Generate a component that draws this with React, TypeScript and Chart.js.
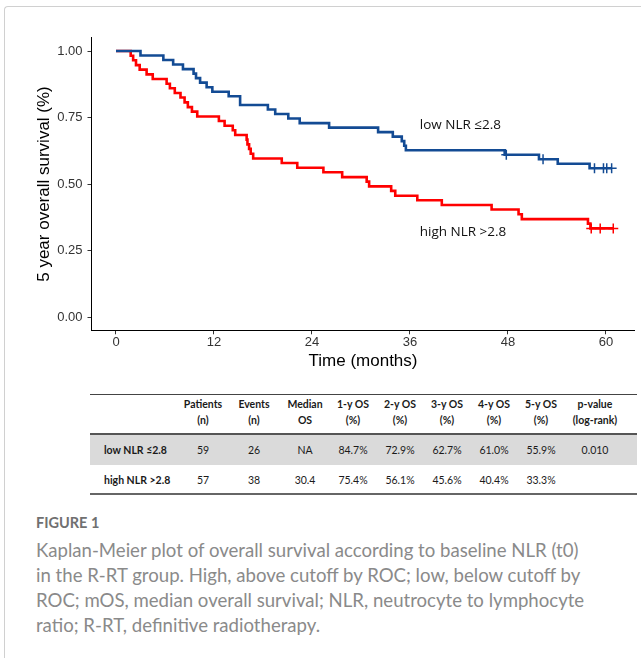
import React, { useEffect, useRef } from "react";
import { Chart, registerables } from "chart.js";

Chart.register(...registerables);

// ---------- data ----------
const LOW_T = [0, 3.0, 5.8, 7.0, 8.2, 9.5, 9.8, 10.3, 11.1, 11.8, 13.8, 15.2, 18.6, 19.5, 21.1, 22.5, 26.1, 32.1, 33.9, 35.0, 35.3, 35.5, 47.6, 51.8, 54.1, 58.0, 60.7];
const LOW_S = [1, 0.983, 0.966, 0.949, 0.932, 0.915, 0.898, 0.881, 0.864, 0.847, 0.830, 0.797, 0.780, 0.763, 0.746, 0.729, 0.712, 0.695, 0.678, 0.661, 0.644, 0.627, 0.610, 0.593, 0.576, 0.559, 0.559];
const LOW_CENS_T = [47.8, 52.3, 58.6, 59.7, 60.1, 60.7];
const LOW_CENS_S = [0.610, 0.593, 0.559, 0.559, 0.559, 0.559];

const HIGH_T = [0, 1.8, 2.1, 2.45, 2.9, 3.75, 4.5, 6.2, 6.6, 7.2, 7.9, 8.4, 8.8, 9.3, 9.95, 12.6, 13.3, 14.3, 14.6, 16.0, 16.1, 16.3, 16.5, 16.8, 20.3, 22.2, 25.4, 27.7, 30.7, 31.0, 33.7, 34.2, 36.9, 39.9, 46.0, 49.3, 49.7, 57.8, 58.1, 60.9];
const HIGH_S = [1, 0.982, 0.965, 0.947, 0.930, 0.912, 0.895, 0.877, 0.860, 0.842, 0.825, 0.807, 0.789, 0.772, 0.754, 0.737, 0.719, 0.702, 0.684, 0.667, 0.649, 0.632, 0.614, 0.596, 0.579, 0.561, 0.544, 0.526, 0.509, 0.491, 0.474, 0.456, 0.439, 0.421, 0.404, 0.386, 0.368, 0.351, 0.333, 0.333];
const HIGH_CENS_T = [58.2, 59.3, 60.9];
const HIGH_CENS_S = [0.333, 0.333, 0.333];

const X_TICKS = [0, 12, 24, 36, 48, 60];
const Y_TICKS = [0, 0.25, 0.5, 0.75, 1];

const CURVE_LABELS = ["low NLR \u22642.8", "high NLR >2.8"];
const LABEL_T = [37.2, 37.2];
const LABEL_S = [0.722, 0.32];

const TABLE_HEAD = [
  ["Patients", "(n)"],
  ["Events", "(n)"],
  ["Median", "OS"],
  ["1-y OS", "(%)"],
  ["2-y OS", "(%)"],
  ["3-y OS", "(%)"],
  ["4-y OS", "(%)"],
  ["5-y OS", "(%)"],
  ["p-value", "(log-rank)"],
];
const ROW_LABELS = ["low NLR \u22642.8", "high NLR >2.8"];
const ROW_LOW = ["59", "26", "NA", "84.7%", "72.9%", "62.7%", "61.0%", "55.9%", "0.010"];
const ROW_HIGH = ["57", "38", "30.4", "75.4%", "56.1%", "45.6%", "40.4%", "33.3%", ""];

const CAPTION_TITLE = "FIGURE 1";
const CAPTION_LINES = [
  "Kaplan-Meier plot of overall survival according to baseline NLR (t0)",
  "in the R-RT group. High, above cutoff by ROC; low, below cutoff by",
  "ROC; mOS, median overall survival; NLR, neutrocyte to lymphocyte",
  "ratio; R-RT, definitive radiotherapy.",
];

// ---------- styles / layout ----------
const BLUE = "#134b94";
const RED = "#ff0000";
const AXIS_FONT = '"Liberation Sans", Arial, sans-serif';
const COL_X = [203, 254, 305, 353, 400, 447, 494, 541, 595];

function KMChart() {
  const ref = useRef<HTMLCanvasElement | null>(null);
  useEffect(() => {
    if (!ref.current) return;
    const labelPlugin = {
      id: "curveLabels",
      afterDatasetsDraw(chart: any) {
        const { ctx, scales } = chart;
        ctx.save();
        ctx.font = '13.5px "Open Sans", sans-serif';
        ctx.fillStyle = "#111";
        ctx.textBaseline = "middle";
        ctx.textAlign = "left";
        CURVE_LABELS.forEach((t, i) => {
          ctx.fillText(t, scales.x.getPixelForValue(LABEL_T[i]), scales.y.getPixelForValue(LABEL_S[i]));
        });
        ctx.restore();
      },
    };
    const pts = (ts: number[], ss: number[]) => ts.map((t, i) => ({ x: t, y: ss[i] }));
    const chart = new Chart(ref.current, {
      type: "line",
      data: {
        datasets: [
          {
            label: "low",
            data: pts(LOW_T, LOW_S),
            borderColor: BLUE,
            borderWidth: 2.6,
            stepped: "before",
            pointRadius: 0,
            fill: false,
          },
          {
            label: "high",
            data: pts(HIGH_T, HIGH_S),
            borderColor: RED,
            borderWidth: 2.6,
            stepped: "before",
            pointRadius: 0,
            fill: false,
          },
          {
            type: "scatter",
            label: "lowc",
            data: pts(LOW_CENS_T, LOW_CENS_S),
            pointStyle: "cross",
            pointRadius: 5,
            borderColor: BLUE,
            backgroundColor: BLUE,
            borderWidth: 1.5,
            showLine: false,
          },
          {
            type: "scatter",
            label: "highc",
            data: pts(HIGH_CENS_T, HIGH_CENS_S),
            pointStyle: "cross",
            pointRadius: 5,
            borderColor: RED,
            backgroundColor: RED,
            borderWidth: 1.5,
            showLine: false,
          },
        ] as any,
      },
      options: {
        responsive: false,
        animation: false,
        devicePixelRatio: 1,
        layout: { padding: { top: 37.7, right: 6.3, left: 0, bottom: 0 } },
        plugins: { legend: { display: false }, tooltip: { enabled: false } },
        scales: {
          x: {
            type: "linear",
            min: -3,
            max: 63.5,
            afterBuildTicks: (s: any) => {
              s.ticks = X_TICKS.map((v) => ({ value: v }));
            },
            afterFit: (s: any) => {
              s.height = 54.7;
            },
            grid: { drawOnChartArea: false, drawTicks: true, tickLength: 4, color: "#333" },
            border: { display: true, color: "#000", width: 1 },
            ticks: {
              color: "#333",
              font: { family: AXIS_FONT, size: 13 },
              padding: 0,
              maxRotation: 0,
              autoSkip: false,
              callback: (v: any) => String(v),
            },
            title: {
              display: true,
              text: "Time (months)",
              color: "#000",
              font: { family: AXIS_FONT, size: 17 },
              padding: { top: 0, bottom: 13.5 },
            },
          },
          y: {
            type: "linear",
            min: -0.05,
            max: 1.05,
            afterBuildTicks: (s: any) => {
              s.ticks = Y_TICKS.map((v) => ({ value: v }));
            },
            afterFit: (s: any) => {
              s.width = 91.5;
            },
            grid: { drawOnChartArea: false, drawTicks: true, tickLength: 4, color: "#333" },
            border: { display: true, color: "#000", width: 1 },
            ticks: {
              color: "#333",
              font: { family: AXIS_FONT, size: 13 },
              padding: 5,
              autoSkip: false,
              callback: (v: any) => Number(v).toFixed(2),
            },
            title: {
              display: true,
              text: "5 year overall survival (%)",
              color: "#000",
              font: { family: AXIS_FONT, size: 17 },
              padding: { top: 33.8, bottom: 0 },
            },
          },
        },
      } as any,
      plugins: [labelPlugin],
    });
    return () => chart.destroy();
  }, []);
  return (
    <canvas
      ref={ref}
      width={641}
      height={385}
      style={{ position: "absolute", left: 0, top: 0, width: 641, height: 385 }}
    />
  );
}

const TABLE_FONT = 'Lato, "Open Sans", sans-serif';

function cellStyle(x: number, y: number, bold: boolean, align: "center" | "left" = "center"): React.CSSProperties {
  return {
    position: "absolute",
    left: align === "center" ? x - 40 : x,
    width: align === "center" ? 80 : 120,
    top: y - 8,
    height: 16,
    lineHeight: "16px",
    textAlign: align,
    fontFamily: TABLE_FONT,
    fontSize: 10.5,
    fontWeight: bold ? 700 : 400,
    color: "#1a1a1a",
    whiteSpace: "nowrap",
  };
}

function SummaryTable() {
  return (
    <div>
      <div style={{ position: "absolute", left: 90, top: 394, width: 547, height: 1, background: "#444" }} />
      <div style={{ position: "absolute", left: 90, top: 433, width: 547, height: 2, background: "#555" }} />
      <div style={{ position: "absolute", left: 90, top: 435, width: 547, height: 30, background: "#dadada" }} />
      <div style={{ position: "absolute", left: 90, top: 493, width: 547, height: 1.5, background: "#666" }} />
      {TABLE_HEAD.map((h, i) => (
        <React.Fragment key={"h" + i}>
          <div style={cellStyle(COL_X[i], 404, true)}>{h[0]}</div>
          <div style={cellStyle(COL_X[i], 420, true)}>{h[1]}</div>
        </React.Fragment>
      ))}
      <div style={cellStyle(104, 450, true, "left")}>{ROW_LABELS[0]}</div>
      <div style={cellStyle(104, 480, true, "left")}>{ROW_LABELS[1]}</div>
      {ROW_LOW.map((v, i) => (
        <div key={"l" + i} style={cellStyle(COL_X[i], 450, false)}>{v}</div>
      ))}
      {ROW_HIGH.map((v, i) => (
        <div key={"g" + i} style={cellStyle(COL_X[i], 480, false)}>{v}</div>
      ))}
    </div>
  );
}

function Caption() {
  return (
    <div>
      <div
        style={{
          position: "absolute",
          left: 36,
          top: 514,
          fontFamily: TABLE_FONT,
          fontSize: 14.5,
          fontWeight: 700,
          color: "#707070",
          whiteSpace: "nowrap",
          lineHeight: "18px",
        }}
      >
        {CAPTION_TITLE}
      </div>
      {CAPTION_LINES.map((l, i) => (
        <div
          key={i}
          style={{
            position: "absolute",
            left: 36,
            top: 538 + i * 25,
            fontFamily: TABLE_FONT,
            fontSize: 18.6,
            fontWeight: 400,
            color: "#8a8a8a",
            whiteSpace: "nowrap",
            lineHeight: "24px",
          }}
        >
          {l}
        </div>
      ))}
    </div>
  );
}

export default function App() {
  return (
    <div
      style={{
        position: "absolute",
        left: 0,
        top: 0,
        width: 641,
        height: 658,
        overflow: "hidden",
        background: "#fff",
      }}
    >
      <div
        style={{
          position: "absolute",
          left: 4,
          top: 6,
          width: 700,
          height: 700,
          borderTop: "1px solid #d0d0d0",
          borderLeft: "1px solid #d0d0d0",
          borderTopLeftRadius: 4,
        }}
      />
      <KMChart />
      <SummaryTable />
      <Caption />
    </div>
  );
}
